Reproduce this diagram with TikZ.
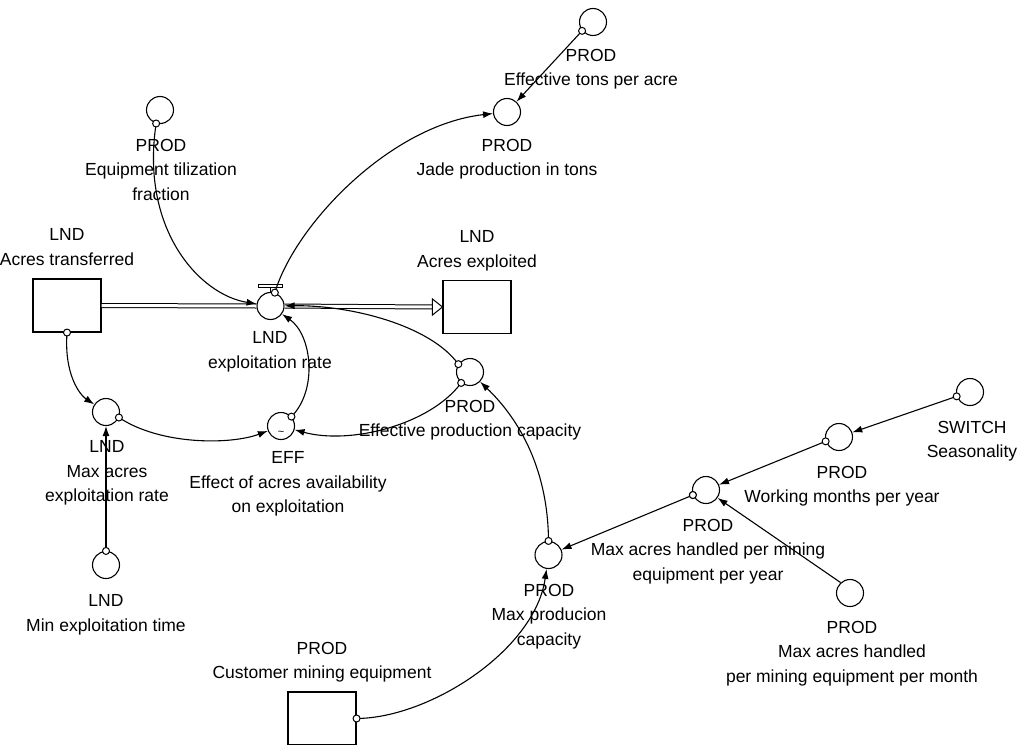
\documentclass[tikz,border=0pt]{standalone}
\usepackage{fontspec}
\setmainfont{Liberation Sans}
\usetikzlibrary{arrows.meta}
\newcommand\lblfont{\fontsize{17.5}{24.5}\selectfont}
\begin{document}
\begin{tikzpicture}[x=1pt,y=-1pt,
  aux/.style={circle, draw, minimum size=27pt, inner sep=0pt, line width=1.1pt},
  stockbox/.style={rectangle, draw, minimum width=68pt, minimum height=53pt, inner sep=0pt, line width=1.1pt},
  lbl/.style={anchor=north, align=center, font=\lblfont, inner sep=0pt},
  link/.style={-{Latex[length=10pt,width=7pt]}, line width=1.1pt},
  orig/.style={circle, draw, fill=white, minimum size=7pt, inner sep=0pt, line width=1pt},
  pipe/.style={double, double distance=3pt, line width=1pt}]
\useasboundingbox (0,0) rectangle (1030,744);

% stocks
\node[stockbox] (acrT) at (67,305.5) {};
\node[stockbox] (acrE) at (477,307) {};
\node[stockbox] (cme) at (322,718.5) {};

% valve and auxiliaries
\node[aux] (valve) at (270.5,306) {};
\node[aux] (etpa) at (593,22) {};
\node[aux] (jade) at (507,112) {};
\node[aux] (eqf) at (160,110) {};
\node[aux] (maxE) at (106,412) {};
\node[aux] (minE) at (106,565) {};
\node[aux] (eff) at (281,426) {};
\node[aux] (epc) at (470,372) {};
\node[aux] (mpc) at (548.5,555) {};
\node[aux] (mah) at (706,490) {};
\node[aux] (wmy) at (839,437) {};
\node[aux] (sea) at (970,392) {};
\node[aux] (mahm) at (850,593) {};
\node[font=\fontsize{11}{11}\selectfont, inner sep=0pt] (efftilde) at ([yshift=-7pt]eff.center) {\textasciitilde};

% labels
\node[lbl] (etpaL) at (591,48.7) {PROD\\Effective tons per acre};
\node[lbl] (jadeL) at (507,138.7) {PROD\\Jade production in tons};
\node[lbl] (eqfL) at (161,138.7) {PROD\\Equipment tilization\\fraction};
\node[lbl] (acrTL) at (67,228.7) {LND\\Acres transferred};
\node[lbl] (acrEL) at (477,230.7) {LND\\Acres exploited};
\node[lbl] (valveL) at (270,331.7) {LND\\exploitation rate};
\node[lbl] (effL) at (288,451.7) {EFF\\Effect of acres availability\\on exploitation};
\node[lbl] (maxEL) at (107,440.7) {LND\\Max acres\\exploitation rate};
\node[lbl] (minEL) at (106,594.7) {LND\\Min exploitation time};
\node[lbl] (epcL) at (470,399.7) {PROD\\Effective production capacity};
\node[lbl] (mpcL) at (549,583.7) {PROD\\Max producion\\capacity};
\node[lbl] (cmeL) at (322,641.7) {PROD\\Customer mining equipment};
\node[lbl] (mahL) at (708,518.7) {PROD\\Max acres handled per mining\\equipment per year};
\node[lbl] (wmyL) at (842,465.7) {PROD\\Working months per year};
\node[lbl] (seaL) at (972,420.7) {SWITCH\\Seasonality};
\node[lbl] (mahmL) at (852,620.7) {PROD\\Max acres handled\\per mining equipment per month};

% valve handle
\draw[line width=1pt] (valve.north) -- ++(0,-4) coordinate (stemtop);
\draw[line width=1pt, fill=white] ([xshift=-12pt]stemtop) rectangle ([xshift=12pt,yshift=3pt]stemtop);

% flow pipes
\draw[pipe] (acrT.east) -- (valve.west);
\draw[pipe] (valve.east) -- ([xshift=-10pt]acrE.west);
\draw[line width=1pt, fill=white] ([xshift=-10pt,yshift=8pt]acrE.west) -- (acrE.west) -- ([xshift=-10pt,yshift=-8pt]acrE.west) -- cycle;

% link origins
\coordinate (oEqf) at (eqf.254);
\coordinate (oValve) at (valve.72);
\coordinate (oEtpa) at (etpa.219);
\coordinate (oAcrT) at (acrT.south);
\coordinate (oMaxE) at (maxE.337);
\coordinate (oMinE) at (minE.90);
\coordinate (oEff) at (eff.42);
\coordinate (oEpcA) at (epc.146);
\coordinate (oEpcB) at (epc.231);
\coordinate (oMpc) at (mpc.90);
\coordinate (oCme) at (cme.east);
\coordinate (oMah) at (mah.201);
\coordinate (oWmy) at (wmy.198);
\coordinate (oSea) at (sea.198);
\coordinate (oMahm) at (mahm.132);

% links
\draw[link] (oEqf) .. controls (140,230) and (200,295) .. (valve);
\draw[link] (oValve) .. controls (295,225) and (390,125) .. (jade);
\draw[link] (oEtpa) -- (jade);
\draw[link] (oAcrT) .. controls (64,375) and (80,395) .. (maxE);
\draw[link] (oMinE) -- (maxE);
\draw[link] (oMaxE) .. controls (160,445) and (230,445) .. (eff);
\draw[link] (oEff) .. controls (318,390) and (312,335) .. (valve);
\draw[link] (oEpcB) .. controls (430,425) and (350,445) .. (eff);
\draw[link] (oEpcA) .. controls (430,325) and (350,305) .. (valve);
\draw[link] (oMpc) .. controls (548,470) and (520,420) .. (epc);
\draw[link] (oCme) .. controls (430,718) and (535,650) .. (mpc);
\draw[link] (oMah) -- (mpc);
\draw[link] (oWmy) -- (mah);
\draw[link] (oSea) -- (wmy);
\draw[link] (oMahm) -- (mah);

% link origin markers
\foreach \o in {oEqf,oValve,oEtpa,oAcrT,oMaxE,oMinE,oEff,oEpcA,oEpcB,oMpc,oCme,oMah,oWmy,oSea,oMahm}
  \node[orig] (\o m) at (\o) {};
\end{tikzpicture}
\end{document}
